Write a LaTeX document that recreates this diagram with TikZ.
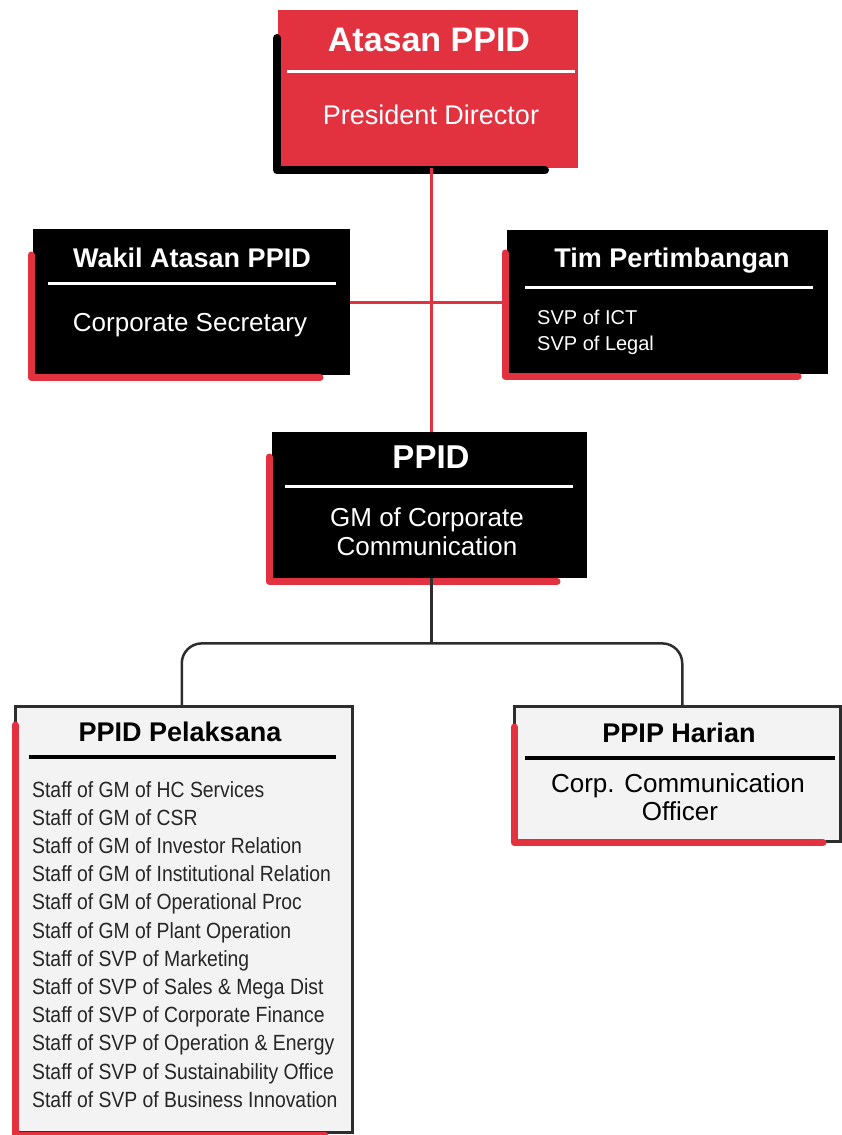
\documentclass[tikz,border=0pt]{standalone}
\usepackage{fontspec}
\setmainfont{Liberation Sans}
\newfontfamily\narrowfont[FakeStretch=0.88]{Liberation Sans}
\usetikzlibrary{calc, positioning}

\definecolor{ppidred}{RGB}{226,50,64}
\definecolor{boxgrey}{RGB}{243,243,243}
\definecolor{edgegrey}{RGB}{45,45,45}

\tikzset{
  redbox/.style={fill=ppidred, inner sep=0pt, anchor=north west},
  blackbox/.style={fill=black, inner sep=0pt, anchor=north west},
  greybox/.style={fill=boxgrey, draw=edgegrey, line width=2.5pt, inner sep=0pt, anchor=north west},
  redshadow/.style={draw=ppidred, line width=7pt, line cap=round, line join=round},
  blackshadow/.style={draw=black, line width=8pt, line cap=round, line join=round},
  whitesep/.style={draw=white, line width=3pt},
  blacksep/.style={draw=black, line width=3.5pt},
  redline/.style={draw=ppidred, line width=3pt},
  treeline/.style={draw=edgegrey, line width=2.5pt},
  boxtitle/.style={font=\bfseries\fontsize{27}{32}\selectfont, inner sep=0pt, anchor=base},
  boxbody/.style={font=\fontsize{26}{30}\selectfont, inner sep=0pt, anchor=base},
  smallbody/.style={font=\fontsize{20}{25}\selectfont, inner sep=0pt, anchor=base west},
  listitem/.style={font=\narrowfont\fontsize{22}{28}\selectfont, inner sep=0pt, anchor=base west}
}

\begin{document}
\begin{tikzpicture}[x=1pt, y=-1pt]
\useasboundingbox[fill=white] (0,0) rectangle (842,1135);

% the boxes
\node[redbox,   minimum width=300pt, minimum height=158pt] (atasan)    at (278,10)  {};
\node[blackbox, minimum width=317pt, minimum height=146pt] (wakil)     at (33,229)  {};
\node[blackbox, minimum width=321pt, minimum height=144pt] (tim)       at (507,230) {};
\node[blackbox, minimum width=315pt, minimum height=146pt] (ppid)      at (272,432) {};
\node[greybox,  minimum width=337pt, minimum height=426pt] (pelaksana) at (14,705)  {};
\node[greybox,  minimum width=326pt, minimum height=135pt] (harian)    at (513,705) {};

% shadows on the left and bottom edges
\draw[blackshadow] ($(atasan.north west)+(-1,28)$) |- ($(atasan.south west)+(267,2)$);
\draw[redshadow] ($(wakil.north west)+(-2,26)$) |- ($(wakil.south west)+(287,2)$);
\draw[redshadow] ($(tim.north west)+(-2,23)$) |- ($(tim.south west)+(291,2)$);
\draw[redshadow] ($(ppid.north west)+(-3,25)$) |- ($(ppid.south west)+(285,3)$);
\draw[redshadow] ($(pelaksana.north west)+(1,20)$) |- ($(pelaksana.south west)+(311,2)$);
\draw[redshadow] ($(harian.north west)+(1,22)$) |- ($(harian.south west)+(310,0)$);

% separators under the titles
\draw[whitesep] ($(atasan.north west)+(9,61)$) -- ($(atasan.north east)+(-3,61)$);
\draw[whitesep] ($(wakil.north west)+(15,54)$) -- ($(wakil.north east)+(-14,54)$);
\draw[whitesep] ($(tim.north west)+(18,57)$) -- ($(tim.north east)+(-15,57)$);
\draw[whitesep] ($(ppid.north west)+(13,54)$) -- ($(ppid.north east)+(-14,54)$);
\draw[blacksep] ($(pelaksana.north west)+(15,52)$) -- ($(pelaksana.north east)+(-18,52)$);
\draw[blacksep] ($(harian.north west)+(12,53)$) -- ($(harian.north east)+(-7,53)$);

% connectors
\coordinate (spine) at ($(atasan.south)+(3,0)$);
\draw[redline] (spine) -- (spine |- ppid.north);
\draw[redline] (wakil.east) -- (tim.west);
\coordinate (fork) at ($(ppid.south)+(2,65)$);
\coordinate (leftdrop) at ($(pelaksana.north)+(-2,0)$);
\coordinate (rightdrop) at ($(harian.north)+(5,0)$);
\draw[treeline] (fork |- ppid.south) -- (fork);
\draw[treeline, rounded corners=20pt] (leftdrop) |- (fork) -| (rightdrop);

% texts
\node[boxtitle, white, font=\bfseries\fontsize{34}{40}\selectfont] (atasan-title) at (429,51) {Atasan PPID};
\node[boxbody, white, font=\fontsize{27}{32}\selectfont] (atasan-body) at (431,124) {President Director};

\node[boxtitle, white] (wakil-title) at (192,267) {Wakil Atasan PPID};
\node[boxbody, white] (wakil-body) at (190,331) {Corporate Secretary};

\node[boxtitle, white] (tim-title) at (672,267) {Tim Pertimbangan};
\node[smallbody, white] (tim-ict) at (537,324) {SVP of ICT};
\node[smallbody, white] (tim-legal) at (537,350) {SVP of Legal};

\node[boxtitle, white, font=\bfseries\fontsize{33}{38}\selectfont] (ppid-title) at (431,468) {PPID};
\node[boxbody, white] (ppid-body1) at (427,526) {GM of Corporate};
\node[boxbody, white] (ppid-body2) at (427,555) {Communication};

\node[boxtitle] (pelaksana-title) at (180,741) {PPID Pelaksana};
    \foreach \y/\A in {0/{Staff of GM of HC Services},
                       1/{Staff of GM of CSR},
                       2/{Staff of GM of Investor Relation},
                       3/{Staff of GM of Institutional Relation},
                       4/{Staff of GM of Operational Proc},
                       5/{Staff of GM of Plant Operation},
                       6/{Staff of SVP of Marketing},
                       7/{Staff of SVP of Sales \& Mega Dist},
                       8/{Staff of SVP of Corporate Finance},
                       9/{Staff of SVP of Operation \& Energy},
                       10/{Staff of SVP of Sustainability Office},
                       11/{Staff of SVP of Business Innovation}
                       } {
        \node[listitem, text=black!85] (item-\y) at (32,{797+28.2*\y}) {\A};
    }

\node[boxtitle] (harian-title) at (679,742) {PPIP Harian};
\node[boxbody] (harian-body1) at (678,792) {Corp. Communication};
\node[boxbody] (harian-body2) at (680,820) {Officer};
\end{tikzpicture}
\end{document}
